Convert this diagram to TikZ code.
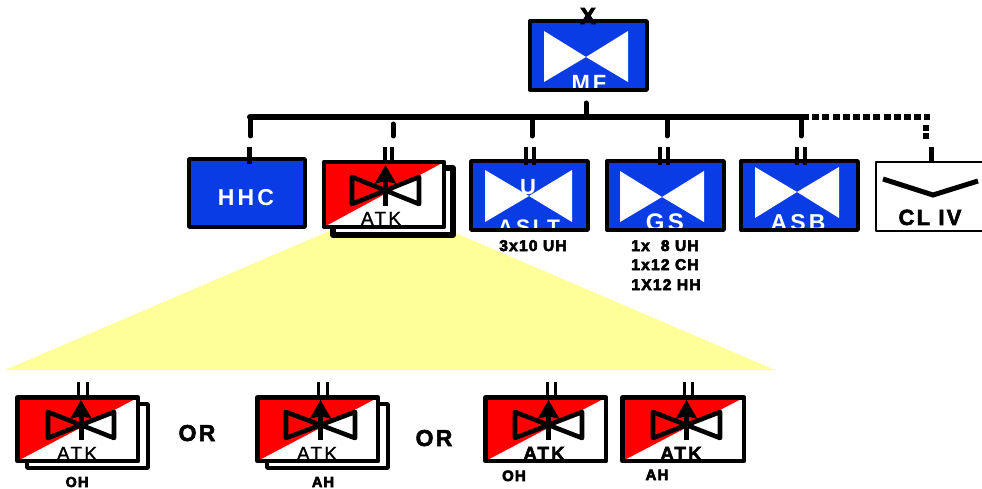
\documentclass[tikz,border=0pt]{standalone}
\usepackage{fontspec}
\setmainfont{Liberation Sans}
\newfontfamily\spacedbold[LetterSpace=14]{Liberation Sans Bold}
\newfontfamily\spacedreg[LetterSpace=12,FakeBold=1.2]{Liberation Sans}
\newfontfamily\heavy[LetterSpace=8,FakeBold=4]{Liberation Sans Bold}
\newfontfamily\heavyw[LetterSpace=10,FakeBold=2.5]{Liberation Sans Bold}
\definecolor{unitblue}{HTML}{0A3CE6}
\definecolor{atkred}{HTML}{FF0000}
\definecolor{zone}{HTML}{FFFF99}
\tikzset{
  unitfill/.style={rectangle,inner sep=0pt,outer sep=0pt,fill=#1},
  border/.style={line width=#1,draw=black,line join=round},
  bus/.style={line width=6pt,line cap=round},
  stem/.style={line width=5pt,line cap=round},
  tick/.style={line width=#1,line cap=butt},
  tick/.default=4pt,
  lbl/.style={inner sep=0pt,outer sep=0pt,anchor=base},
}
% name, x1, y1, x2, y2, fill
\newcommand\unitbg[6]{\node[unitfill=#6,minimum width={(#4-#2)*1pt},minimum height={(#5-#3)*1pt}] (#1) at ({(#2+#4)/2},{(#3+#5)/2}) {};}
\newcommand\frameit[2]{\draw[border=#2] (#1.south west) rectangle (#1.north east);}
% white bow tie: left, right, top, bottom, cx, cy
\newcommand\whitetie[6]{\fill[white] (#1,#3) -- (#5,#6) -- (#2,#3) -- (#2,#4) -- (#5,#6) -- (#1,#4) -- cycle;}
% attack symbol: name, left, right, top, bottom
\newcommand\atktie[5]{%
  \fill[atkred] (#1.north west) -- (#1.north east) -- (#1.south west) -- cycle;
  \pgfmathsetmacro\cxx{(#2+#3)/2}\pgfmathsetmacro\cyy{(#4+#5)/2}\pgfmathsetmacro\aty{#4-12}
  \draw[line width=4.6pt,line join=round] (#2,#4) -- (\cxx,\cyy) -- (#3,#4) -- (#3,#5) -- (\cxx,\cyy) -- (#2,#5) -- cycle;
  \draw[line width=5pt] (\cxx,#5+2) -- (\cxx,\aty+8);
  \fill (\cxx,\aty) -- (\cxx+11,\aty+19) -- (\cxx,\aty+16) -- (\cxx-11,\aty+19) -- cycle;
}
\begin{document}
\begin{tikzpicture}[x=1pt,y=-1pt]
\useasboundingbox (0,0) rectangle (982,489);
\fill[white] (0,0) rectangle (982,489);

% yellow zoom wedge
\fill[zone] (5,370) -- (390,205) -- (775,370) -- cycle;

% MF
\unitbg{mf}{530}{21}{647}{90}{unitblue}
\whitetie{544}{628}{31}{82}{586}{57}
\node[lbl,text=white] (mft) at (589,91) {\fontsize{22}{26}\spacedbold MF};
\frameit{mf}{3.4pt}
\node[lbl] (xmark) at (588,24) {\fontsize{23}{26}\heavy X};

% bus and connectors
\coordinate (busl) at (250,117);
\coordinate (busr) at (802,117);
\coordinate (dot1) at (930,117);
\coordinate (dot2) at (926,125);
\coordinate (dot3) at (926,139);
\coordinate (mfs1) at (586,103);
\coordinate (mfs2) at (586,117);
\draw[bus] (busl) -- (busr);
\draw[stem] (mfs1) -- (mfs2);
\draw[line width=6pt,dash pattern=on 7pt off 3.2pt] (busr) -- (dot1);
\draw[line width=6pt,dash pattern=on 6pt off 2pt] (dot2) -- (dot3);

% HHC
\unitbg{hhc}{189}{159}{305}{227}{unitblue}
\node[lbl,text=white] (hhct) at (246,206) {\fontsize{23}{26}\spacedbold HHC};
\frameit{hhc}{3.4pt}

% top ATK
\draw[border=5.4pt,fill=white] (333,168) rectangle (453,235);
\unitbg{atk}{324}{162}{444}{227}{white}
\atktie{atk}{352}{419}{177}{204}
\node[lbl] (atkt) at (381,225) {\fontsize{19}{22}\spacedreg ATK};
\frameit{atk}{4.6pt}

% ASLT
\unitbg{aslt}{471}{161}{588}{230}{unitblue}
\whitetie{485}{572}{170}{222}{529}{196}
\node[lbl,text=white] (u) at (528,194) {\fontsize{22}{24}\spacedbold U};
\node[lbl,text=white] (aslt-t) at (529,234) {\fontsize{21}{24}\spacedbold ASLT};
\frameit{aslt}{3.4pt}
\node[lbl] (aslt-n) at (533,251) {\fontsize{15.5}{18}\heavy 3x10 UH};

% GS
\unitbg{gs}{607}{161}{724}{230}{unitblue}
\whitetie{620}{704}{171}{222}{662}{197}
\node[lbl,text=white] (gst) at (665,230) {\fontsize{24}{26}\spacedbold GS};
\frameit{gs}{3.4pt}
\node[lbl] (gs-a) at (665,251) {\fontsize{15.5}{18}\heavy 1x\ \ 8 UH};
\node[lbl] (gs-b) at (665,270) {\fontsize{15.5}{18}\heavy 1x12 CH};
\node[lbl] (gs-c) at (666,290) {\fontsize{15.5}{18}\heavy 1X12 HH};

% ASB
\unitbg{asb}{741}{161}{858}{230}{unitblue}
\whitetie{755}{839}{167}{218}{797}{192}
\node[lbl,text=white] (asbt) at (798,230) {\fontsize{23}{26}\spacedbold ASB};
\frameit{asb}{3.4pt}

% CL IV
\unitbg{cl}{876}{162}{983}{231}{white}
\coordinate (ch1) at (883,179);
\coordinate (ch2) at (933,195);
\coordinate (ch3) at (978,181);
\draw[line width=5pt] (ch1) -- (ch2) -- (ch3);
\node[lbl] (clt) at (930,225) {\fontsize{22}{24}\heavyw CL IV};
\frameit{cl}{2pt}

% drops from the bus
\foreach \n/\xa/\ya in {a/250.5/117,b/393/124,c/532/117,d/667/117,e/801/117}
  \draw[stem] (\xa,\ya) -- (\xa,136);
\draw[line width=5pt] (249,147) -- (249,164);
\draw[tick] (385,147) -- (385,162);
\draw[tick] (392,147) -- (392,162);
\draw[tick] (526,147) -- (526,165);
\draw[tick] (534,147) -- (534,165);
\draw[tick] (660,147) -- (660,165);
\draw[tick] (668,147) -- (668,165);
\draw[tick] (797,147) -- (797,165);
\draw[tick] (805,147) -- (805,165);
\draw[line width=5pt] (931,147) -- (931,162);

% bottom row
\draw[border=3.6pt,fill=white] (27,404) rectangle (148,468);
\unitbg{o1}{17.5}{397.5}{138}{461}{white}
\atktie{o1}{48}{114}{412}{438}
\node[lbl] (o1t) at (77,460) {\fontsize{19}{22}\spacedreg ATK};
\frameit{o1}{4.6pt}
\draw[tick=3pt] (78.5,382) -- (78.5,397);
\draw[tick=3pt] (87.5,382) -- (87.5,397);
\node[lbl] (o1n) at (77,487) {\fontsize{14.5}{18}\heavy OH};
\node[lbl] (or1) at (197,441) {\fontsize{23}{26}\heavyw OR};

\draw[border=3.6pt,fill=white] (267,404) rectangle (388,468);
\unitbg{o2}{257.5}{397.5}{378}{461}{white}
\atktie{o2}{286}{355}{412}{438}
\node[lbl] (o2t) at (317,460) {\fontsize{19}{22}\spacedreg ATK};
\frameit{o2}{4.6pt}
\draw[tick=3pt] (318.5,382) -- (318.5,397);
\draw[tick=3pt] (327.5,382) -- (327.5,397);
\node[lbl] (o2n) at (323,487) {\fontsize{14.5}{18}\heavy AH};
\node[lbl] (or2) at (434,446) {\fontsize{23}{26}\heavyw OR};

\unitbg{o3}{485.5}{397.5}{606}{461}{white}
\atktie{o3}{515}{582}{412}{438}
\node[lbl] (o3t) at (544,460) {\fontsize{19}{22}\heavyw ATK};
\frameit{o3}{4.6pt}
\draw[tick=3pt] (547,382) -- (547,397);
\draw[tick=3pt] (555,382) -- (555,397);
\node[lbl] (o3n) at (514,481) {\fontsize{15}{18}\heavy OH};

\unitbg{o4}{622.5}{397.5}{744}{461}{white}
\atktie{o4}{653}{720}{412}{438}
\node[lbl] (o4t) at (681,460) {\fontsize{19}{22}\heavyw ATK};
\frameit{o4}{4.6pt}
\draw[tick=3pt] (684,382) -- (684,397);
\draw[tick=3pt] (692,382) -- (692,397);
\node[lbl] (o4n) at (657,480) {\fontsize{15}{18}\heavy AH};
\end{tikzpicture}
\end{document}
